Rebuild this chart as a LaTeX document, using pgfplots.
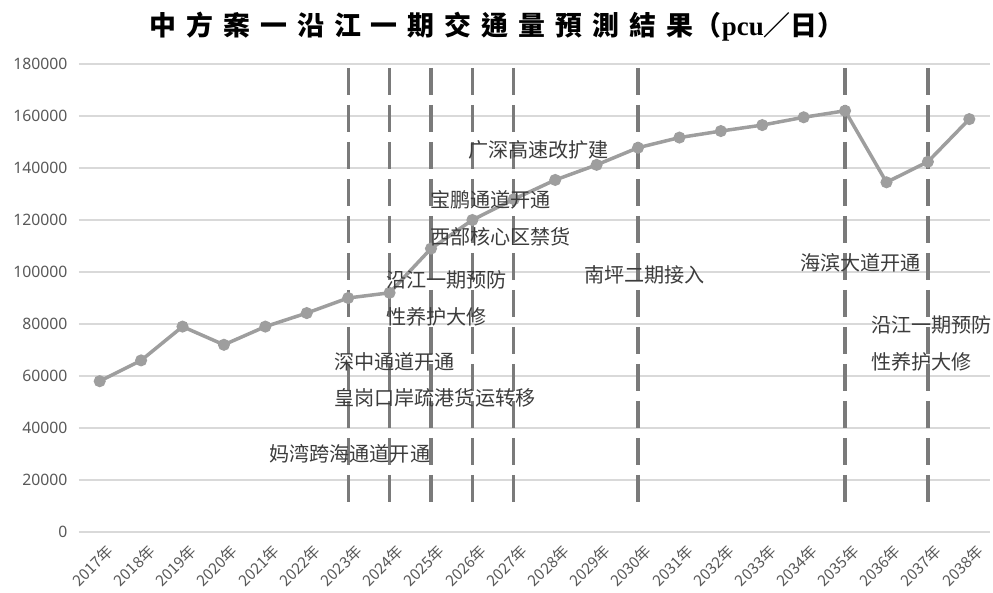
\documentclass[border=0pt]{standalone}
\usepackage{fontspec}
\usepackage{pgfplots}
\pgfplotsset{compat=1.18}
\setmainfont{Noto Sans CJK SC}
\newfontfamily\tcfont{Noto Sans CJK TC}
\newfontfamily\numfont{Noto Sans}
\newfontfamily\serifb{Liberation Serif}
\definecolor{dataline}{HTML}{9E9E9E}
\definecolor{dashc}{HTML}{7A7A7A}
\definecolor{gridc}{HTML}{D9D9D9}
\definecolor{tickc}{HTML}{595959}
\definecolor{annc}{HTML}{3C3C3C}
\newcommand{\ann}[3]{\node[anchor=west,inner sep=0pt,text=annc,font=\fontsize{20.2}{21}\selectfont] at (#1-79,532-#2) {#3};}
\newcommand{\tg}{\hspace{10bp}}
\begin{document}
\begin{tikzpicture}[x=1bp,y=1bp]
\useasboundingbox (-79,-61) rectangle (914,532);
\begin{axis}[
  at={(0,0)}, anchor=south west,
  scale only axis, width=911bp, height=468bp,
  xmin=-0.5, xmax=21.5, ymin=0, ymax=180000,
  axis line style={draw=none},
  tick style={draw=none},
  xtick={0,...,21},
  xticklabels={2017年,2018年,2019年,2020年,2021年,2022年,2023年,2024年,2025年,2026年,2027年,2028年,2029年,2030年,2031年,2032年,2033年,2034年,2035年,2036年,2037年,2038年},
  x tick label style={rotate=45, anchor=north east, font=\fontsize{15.5}{16}\selectfont, text=tickc, inner sep=0pt, yshift=-12bp, xshift=-4bp},
  ytick={0,20000,40000,60000,80000,100000,120000,140000,160000,180000},
  yticklabels={0,20000,40000,60000,80000,100000,120000,140000,160000,180000},
  scaled y ticks=false,
  y tick label style={font=\numfont\fontsize{15.8}{16}\selectfont, text=tickc, xshift=-8bp},
  ymajorgrids, grid style={gridc, line width=1.4bp},
  clip=false,
]
\addplot[dataline, line width=3.5bp, mark=*, mark size=4.2bp, mark options={fill=dataline, draw=dataline}] coordinates {
(0,58000) (1,66000) (2,79000) (3,72000) (4,79000) (5,84200) (6,90000) (7,92000) (8,109000) (9,120000) (10,128000) (11,135400) (12,141200) (13,147800) (14,151700) (15,154200) (16,156500) (17,159500) (18,162000) (19,134500) (20,142400) (21,158800)};
\pgfplotsinvokeforeach{6,7,8,9,10,13,18,20}{
\addplot[dashc, line width=3.2bp, dash pattern=on 27bp off 10bp, mark=none] coordinates {(#1,178500) (#1,9000)};
}
\end{axis}
\ann{468}{150}{广深高速改扩建}
\ann{430}{200}{宝鹏通道开通}
\ann{430}{237}{西部核心区禁货}
\ann{386}{280}{沿江一期预防}
\ann{386}{317}{性养护大修}
\ann{334}{362}{深中通道开通}
\ann{334}{398}{皇岗口岸疏港货运转移}
\ann{269}{454}{妈湾跨海通道开通}
\ann{584}{275}{南坪二期接入}
\ann{800}{263}{海滨大道开通}
\ann{871}{325}{沿江一期预防}
\ann{871}{362}{性养护大修}
\node[anchor=center,inner sep=0pt,text=black] at (497-79,532-27) {\tcfont\bfseries\fontsize{27}{28}\selectfont 中\tg 方\tg 案\tg 一\tg 沿\tg 江\tg 一\tg 期\tg 交\tg 通\tg 量\tg 預\tg 測\tg 結\tg 果\hspace{2bp}（{\serifb\bfseries pcu}／日）};
\end{tikzpicture}
\end{document}
